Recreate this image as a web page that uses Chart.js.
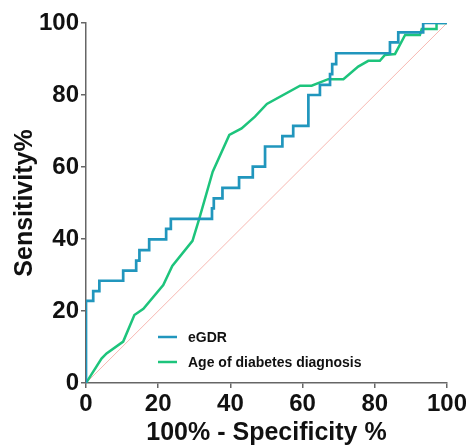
<!DOCTYPE html>
<html>
<head>
<meta charset="utf-8">
<script src="https://cdn.jsdelivr.net/npm/chart.js@4/dist/chart.umd.min.js"></script>
<style>
  html, body { margin: 0; padding: 0; background: #fff; }
  #wrap { width: 466px; height: 448px; }
</style>
</head>
<body>
<div id="wrap"><canvas id="mycanvas" width="466" height="448"></canvas></div>
<script>
// eGDR ROC curve (100% - specificity, sensitivity)
var egdrX = [0, 0, 2.0, 2.0, 3.7, 3.7, 10.3, 10.3, 13.9, 13.9, 14.8, 14.8, 17.5, 17.5, 22.2, 22.2, 23.5, 23.5, 34.9, 34.9, 35.4, 35.4, 37.8, 37.8, 42.4, 42.4, 46.2, 46.2, 49.6, 49.6, 54.4, 54.4, 57.4, 57.4, 61.6, 61.6, 64.8, 64.8, 67.6, 67.6, 68.2, 68.2, 69.3, 69.3, 84.2, 84.2, 86.5, 86.5, 93.4, 93.4, 100];
var egdrY = [0, 22.8, 22.8, 25.5, 25.5, 28.4, 28.4, 31.2, 31.2, 34.0, 34.0, 36.9, 36.9, 39.9, 39.9, 42.8, 42.8, 45.6, 45.6, 48.5, 48.5, 51.3, 51.3, 54.2, 54.2, 57.1, 57.1, 60.1, 60.1, 65.7, 65.7, 68.6, 68.6, 71.4, 71.4, 80.0, 80.0, 82.8, 82.8, 85.8, 85.8, 88.6, 88.6, 91.6, 91.6, 94.6, 94.6, 97.4, 97.4, 100, 100];

// Age of diabetes diagnosis ROC curve
var ageX = [0, 4.3, 5.7, 10.3, 13.4, 15.9, 21.4, 23.9, 29.5, 31.4, 35.1, 39.7, 43.1, 46.8, 50.1, 59.3, 62.5, 67.1, 71.3, 75.4, 78.2, 81.4, 82.8, 85.6, 88.4, 92.5, 93.0, 97.1, 97.1, 100];
var ageY = [0, 6.8, 8.2, 11.5, 18.9, 20.6, 27.2, 32.5, 39.5, 45.7, 58.7, 68.9, 70.7, 74.0, 77.5, 82.6, 82.6, 84.4, 84.4, 87.9, 89.5, 89.5, 91.1, 91.4, 96.7, 96.7, 98.3, 98.3, 100, 100];

// reference line
var diagX = [0, 100];
var diagY = [0, 100];

var xTicks = [0, 20, 40, 60, 80, 100];
var yTicks = [0, 20, 40, 60, 80, 100];

function pts(xs, ys) {
	var out = [];
	for (var i in xs) {
		out.push({x: xs[i], y: ys[i]});
	}
	return out;
}

var blue = '#2196bd';
var green = '#1dc47c';
var fontFam = '"Liberation Sans", Arial, sans-serif';

// legend drawn inside the plot, lower right
var innerLegend = {
	id: 'innerLegend',
	afterDraw: function(chart) {
		var ctx = chart.ctx;
		var items = [
			{label: 'eGDR', color: blue, y: 337},
			{label: 'Age of diabetes diagnosis', color: green, y: 362}
		];
		ctx.save();
		ctx.font = 'bold 14px ' + fontFam;
		ctx.textBaseline = 'middle';
		ctx.fillStyle = '#111';
		items.forEach(function(it) {
			ctx.strokeStyle = it.color;
			ctx.lineWidth = 2.5;
			ctx.beginPath();
			ctx.moveTo(158, it.y);
			ctx.lineTo(177, it.y);
			ctx.stroke();
			ctx.fillText(it.label, 188, it.y + 1);
		});
		ctx.restore();
	}
};

var ctx = document.getElementById('mycanvas');

var rocChart = new Chart(ctx, {
	type: 'line',
	data: {
		datasets: [
			{
				label: 'reference',
				data: pts(diagX, diagY),
				borderColor: '#f7b8b2',
				borderWidth: 1,
				pointRadius: 0,
				order: 3
			},
			{
				label: 'Age of diabetes diagnosis',
				data: pts(ageX, ageY),
				borderColor: green,
				borderWidth: 2.5,
				pointRadius: 0,
				tension: 0,
				order: 2
			},
			{
				label: 'eGDR',
				data: pts(egdrX, egdrY),
				borderColor: blue,
				borderWidth: 2.7,
				pointRadius: 0,
				tension: 0,
				order: 1
			}
		]
	},
	options: {
		responsive: false,
		animation: false,
		layout: { padding: { top: 23, right: 0, left: 10, bottom: 0 } },
		plugins: {
			legend: { display: false },
			tooltip: { enabled: false }
		},
		scales: {
			x: {
				type: 'linear',
				min: 0,
				max: 100,
				afterBuildTicks: function(scale) {
					scale.ticks = xTicks.map(function(v) { return {value: v}; });
				},
				afterFit: function(scale) {
					scale.height = 65;
					scale.paddingRight = 19;
					scale.paddingLeft = 0;
				},
				grid: { drawOnChartArea: false, color: '#666', tickLength: 5, lineWidth: 1.5 },
				border: { color: '#666', width: 1.5 },
				ticks: {
					color: '#111',
					padding: 2,
					maxRotation: 0,
					font: { family: fontFam, size: 24, weight: 'bold' }
				},
				title: {
					display: true,
					text: '100% - Specificity %',
					color: '#111',
					padding: { top: 0, bottom: 0 },
					font: { family: fontFam, size: 25, weight: 'bold' }
				}
			},
			y: {
				type: 'linear',
				min: 0,
				max: 100,
				afterBuildTicks: function(scale) {
					scale.ticks = yTicks.map(function(v) { return {value: v}; });
				},
				afterFit: function(scale) {
					scale.width = 76;
					scale.paddingTop = 0;
					scale.paddingBottom = 0;
				},
				grid: { drawOnChartArea: false, color: '#666', tickLength: 5, lineWidth: 1.5 },
				border: { color: '#666', width: 1.5 },
				ticks: {
					color: '#111',
					padding: 2,
					font: { family: fontFam, size: 24, weight: 'bold' }
				},
				title: {
					display: true,
					text: 'Sensitivity%',
					color: '#111',
					padding: { top: 0, bottom: 4 },
					font: { family: fontFam, size: 25, weight: 'bold' }
				}
			}
		}
	},
	plugins: [innerLegend]
});
</script>
</body>
</html>
